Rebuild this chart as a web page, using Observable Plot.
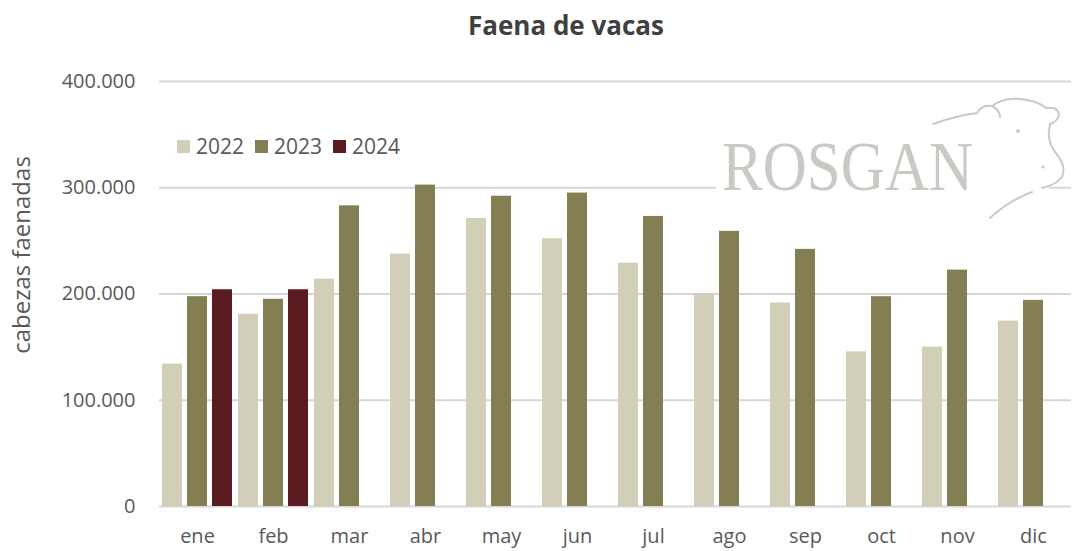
<!DOCTYPE html>
<html>
<head>
<meta charset="utf-8">
<script src="https://cdn.jsdelivr.net/npm/d3@7"></script>
<script src="https://cdn.jsdelivr.net/npm/@observablehq/plot@0.6"></script>
<style>
  body { margin: 0; background: white; }
  #wrap { position: relative; width: 1080px; height: 551px; overflow: hidden; font-family: "Open Sans", sans-serif; }
  #title { height: 50px; text-align: center; font-weight: bold; font-size: 26px; color: #404040; line-height: 50px; padding-left: 52px; box-sizing: border-box; }
  #overlay { position: absolute; left: 0; top: 0; pointer-events: none; }
</style>
</head>
<body>
<div id="wrap">
  <div id="title">Faena de vacas</div>
  <div id="chart"></div>
  <svg id="overlay" width="1080" height="551"></svg>
</div>
<script>
const months = ["ene","feb","mar","abr","may","jun","jul","ago","sep","oct","nov","dic"];
const years = ["2022","2023","2024"];
const colors = ["#d1cfb8","#847f53","#5b1c21"];
const v2022 = [134000,181000,214000,237500,271000,252000,229000,200500,191500,145500,150000,174500];
const v2023 = [197500,195000,283000,302500,292000,295000,273000,259000,242000,197500,222500,194000];
const v2024 = [204000,204000];
const yTicks = [0,100000,200000,300000,400000];
const yLabel = "cabezas faenadas";
const watermark = "ROSGAN";

const series = [v2022, v2023, v2024];
const data = [];
years.forEach((yr, j) => {
  series[j].forEach((v, i) => data.push({month: months[i], year: yr, value: v}));
});

const fmt = d => d3.format(",")(d).replace(/,/g, ".");

const chart = Plot.plot({
  width: 1080,
  height: 501,
  marginLeft: 156,
  marginRight: 6,
  marginTop: 31,
  marginBottom: 45,
  style: {fontFamily: "Open Sans, sans-serif", fontSize: "20px", color: "#595959", background: "white", overflow: "visible"},
  fx: {domain: months, padding: 0, label: null, tickSize: 0, tickPadding: 22, axis: "bottom"},
  x: {domain: years, paddingInner: 0.22, paddingOuter: 0.11, axis: null},
  y: {domain: [0, 400000], ticks: yTicks, tickFormat: fmt, label: null, tickSize: 0, tickPadding: 24},
  color: {domain: years, range: colors},
  marks: [
    Plot.gridY(yTicks, {stroke: "#d6d6d6", strokeOpacity: 1, strokeWidth: 2}),
    Plot.barY(data, {fx: "month", x: "year", y: "value", fill: "year"})
  ]
});
document.getElementById("chart").appendChild(chart);

// Overlay: axis title, legend, watermark
const ov = d3.select("#overlay");
ov.append("text")
  .attr("transform", "translate(30,255) rotate(-90)")
  .attr("text-anchor", "middle")
  .attr("font-family", "Open Sans, sans-serif")
  .attr("font-size", 24)
  .attr("fill", "#595959")
  .text(yLabel);

const legX = [177, 255, 333];
years.forEach((yr, j) => {
  ov.append("rect").attr("x", legX[j]).attr("y", 140).attr("width", 13).attr("height", 13).attr("fill", colors[j]);
  ov.append("text").attr("x", legX[j] + 19).attr("y", 154)
    .attr("font-family", "Open Sans, sans-serif").attr("font-size", 21).attr("fill", "#595959").text(yr);
});

// watermark
ov.append("rect").attr("x", 716).attr("y", 182).attr("width", 333).attr("height", 10).attr("fill", "white");
ov.append("text").attr("x", 722).attr("y", 190)
  .attr("font-family", "Liberation Serif, serif").attr("font-size", 70)
  .attr("textLength", 251).attr("lengthAdjust", "spacingAndGlyphs")
  .attr("fill", "#c9cac4").text(watermark);
const cow = ov.append("g").attr("fill", "none").attr("stroke", "#c9cac4").attr("stroke-width", 2).attr("stroke-linecap", "round");
cow.append("path").attr("d", "M933,124 Q955,116 977,113");
cow.append("path").attr("d", "M977,113 Q982,104 992,106 Q1000,110 1000,117");
cow.append("path").attr("d", "M992,106 Q1004,97 1020,99 Q1036,100 1046,108");
cow.append("path").attr("d", "M1046,108 Q1058,106 1059,115 Q1057,122 1050,124");
cow.append("path").attr("d", "M1050,124 Q1046,140 1055,152 Q1067,166 1062,177 Q1056,185 1042,188");
cow.append("path").attr("d", "M1032,192 Q1010,200 990,218");
cow.append("circle").attr("cx", 1018).attr("cy", 131).attr("r", 2).attr("fill", "#c9cac4").attr("stroke", "none");
cow.append("circle").attr("cx", 1043).attr("cy", 167).attr("r", 1.6).attr("fill", "#c9cac4").attr("stroke", "none");
</script>
</body>
</html>
